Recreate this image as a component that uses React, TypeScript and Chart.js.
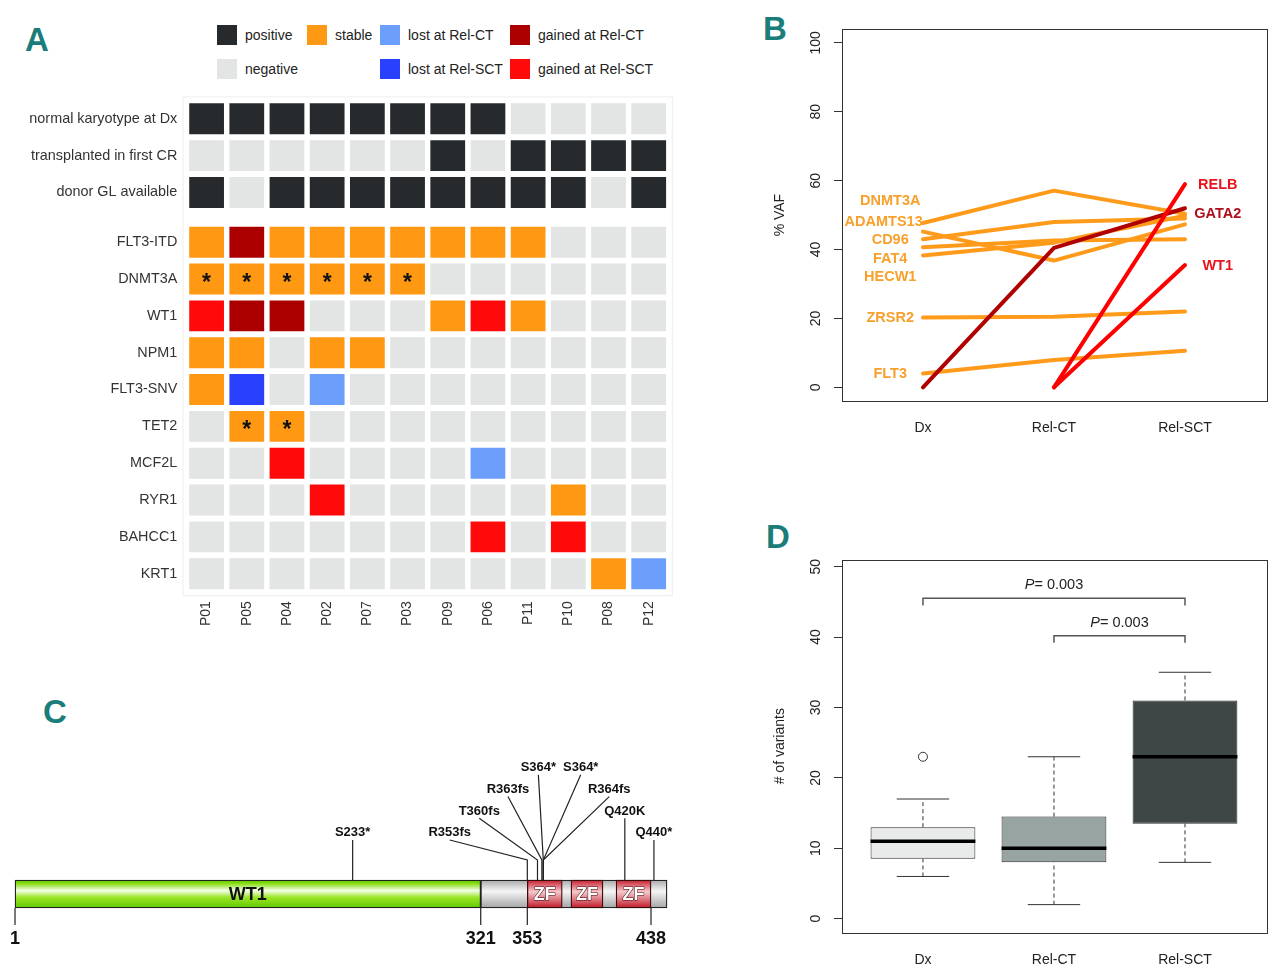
import React, { useEffect, useRef } from 'react';
import { Chart, registerables } from 'chart.js';

Chart.register(...registerables);

const SANS = '"Liberation Sans", Arial, Helvetica, sans-serif';
const NARROW = '"Liberation Sans Narrow", "Arial Narrow", "Liberation Sans", Arial, sans-serif';
Chart.defaults.font.family = SANS;
Chart.defaults.font.size = 14;
Chart.defaults.color = '#222';

// ---------------- Panel A data ----------------
const patients = ['P01', 'P05', 'P04', 'P02', 'P07', 'P03', 'P09', 'P06', 'P11', 'P10', 'P08', 'P12'];
const clinicalRows = ['normal karyotype at Dx', 'transplanted in first CR', 'donor GL available'];
const geneRows = ['FLT3-ITD', 'DNMT3A', 'WT1', 'NPM1', 'FLT3-SNV', 'TET2', 'MCF2L', 'RYR1', 'BAHCC1', 'KRT1'];
// P positive, N negative, S stable, LC lost at Rel-CT, LS lost at Rel-SCT, GC gained at Rel-CT, GS gained at Rel-SCT
const normalKaryotype = ['P', 'P', 'P', 'P', 'P', 'P', 'P', 'P', 'N', 'N', 'N', 'N'];
const transplantedCR1 = ['N', 'N', 'N', 'N', 'N', 'N', 'P', 'N', 'P', 'P', 'P', 'P'];
const donorGL = ['P', 'N', 'P', 'P', 'P', 'P', 'P', 'P', 'P', 'P', 'N', 'P'];
const flt3itd = ['S', 'GC', 'S', 'S', 'S', 'S', 'S', 'S', 'S', 'N', 'N', 'N'];
const dnmt3a = ['S', 'S', 'S', 'S', 'S', 'S', 'N', 'N', 'N', 'N', 'N', 'N'];
const wt1 = ['GS', 'GC', 'GC', 'N', 'N', 'N', 'S', 'GS', 'S', 'N', 'N', 'N'];
const npm1 = ['S', 'S', 'N', 'S', 'S', 'N', 'N', 'N', 'N', 'N', 'N', 'N'];
const flt3snv = ['S', 'LS', 'N', 'LC', 'N', 'N', 'N', 'N', 'N', 'N', 'N', 'N'];
const tet2 = ['N', 'S', 'S', 'N', 'N', 'N', 'N', 'N', 'N', 'N', 'N', 'N'];
const mcf2l = ['N', 'N', 'GS', 'N', 'N', 'N', 'N', 'LC', 'N', 'N', 'N', 'N'];
const ryr1 = ['N', 'N', 'N', 'GS', 'N', 'N', 'N', 'N', 'N', 'S', 'N', 'N'];
const bahcc1 = ['N', 'N', 'N', 'N', 'N', 'N', 'N', 'GS', 'N', 'GS', 'N', 'N'];
const krt1 = ['N', 'N', 'N', 'N', 'N', 'N', 'N', 'N', 'N', 'N', 'S', 'LC'];
const dnmt3aStarred = ['P01', 'P05', 'P04', 'P02', 'P07', 'P03'];
const tet2Starred = ['P05', 'P04'];

const statusColors: Record<string, string> = {
  P: '#262a2c', N: '#e2e5e4', S: '#ff9914', LC: '#6b9ffb', LS: '#2a40ff', GC: '#ac0000', GS: '#ff0a0a',
};
const legendLabels = ['positive', 'stable', 'lost at Rel-CT', 'gained at Rel-CT', 'negative', 'lost at Rel-SCT', 'gained at Rel-SCT'];
const legendCodes = ['P', 'S', 'LC', 'GC', 'N', 'LS', 'GS'];
const legendCol = [0, 1, 2, 3, 0, 2, 3];
const legendRow = [0, 0, 0, 0, 1, 1, 1];

// ---------------- Panel B data ----------------
const timepoints = ['Dx', 'Rel-CT', 'Rel-SCT'];
const vafDNMT3A = [47.7, 57.1, 50.4];
const vafADAMTS13 = [45.2, 36.8, 47.3];
const vafCD96 = [43.0, 48.0, 49.0];
const vafFAT4 = [40.7, 42.6, 43.0];
const vafHECW1 = [38.3, 42.0, 49.8];
const vafZRSR2 = [20.3, 20.5, 22.0];
const vafFLT3 = [4.0, 7.9, 10.6];
const vafGATA2 = [0, 40.5, 52.0];
const vafRELB = [null, 0, 59.0];
const vafWT1 = [null, 0, 35.5];
const vafTicks = [0, 20, 40, 60, 80, 100];
const stableNames = ['DNMT3A', 'ADAMTS13', 'CD96', 'FAT4', 'HECW1', 'ZRSR2', 'FLT3'];
const stableLabelX = [0.75, 0.7, 0.75, 0.75, 0.75, 0.75, 0.75];
const stableLabelY = [54.1, 47.9, 42.7, 37.4, 31.9, 20.2, 3.9];
const gainedNames = ['RELB', 'GATA2', 'WT1'];
const gainedLabelX = [3.25, 3.25, 3.25];
const gainedLabelY = [58.7, 50.4, 35.2];

// ---------------- Panel C data ----------------
const regionNames = ['WT1', '', 'ZF', 'ZF', 'ZF'];
const regionStart = [1, 321, 353, 383, 414];
const regionEnd = [321, 449, 377, 405, 438];
const regionKind = ['main', 'linker', 'zf', 'zf', 'zf'];
const mutationNames = ['S233*', 'R353fs', 'T360fs', 'R363fs', 'S364*', 'S364*', 'R364fs', 'Q420K', 'Q440*'];
const mutationPos = [233, 353, 360, 363, 364, 364, 364, 420, 440];
const mutationLabelPos = [233, 299.7, 320, 339.7, 360.6, 389.7, 409.3, 420, 440];
const mutationTier = [1, 1, 2, 3, 4, 4, 3, 2, 1];
const axisMarks = [1, 321, 353, 438];

// ---------------- Panel D data ----------------
const groups = ['Dx', 'Rel-CT', 'Rel-SCT'];
const boxLow = [8.5, 8, 13.5];
const boxHigh = [13, 14.5, 31];
const medians = [11, 10, 23];
const whiskerLow = [6, 2, 8];
const whiskerHigh = [17, 23, 35];
const outliers = [[23], [], []];
const variantTicks = [0, 10, 20, 30, 40, 50];
const compFrom = [1, 2];
const compTo = [3, 3];
const compBarY = [45.5, 40.2];
const compText = ['= 0.003', '= 0.003'];
const compTextY = [47.4, 42.0];

// ---------------- helpers ----------------
type Part = { text: string; font: string; color: string };
type TextItem = { x: number; y: number; parts: Part[]; align?: string; baseline?: CanvasTextBaseline; stroke?: string };

function textPlugin(id: string, items: TextItem[]) {
  return {
    id,
    afterDatasetsDraw(chart: any) {
      const ctx = chart.ctx;
      const xs = chart.scales.x;
      const ys = chart.scales.y;
      ctx.save();
      for (const it of items) {
        const px = xs.getPixelForValue(it.x);
        const py = ys.getPixelForValue(it.y);
        let total = 0;
        for (const p of it.parts) { ctx.font = p.font; total += ctx.measureText(p.text).width; }
        let sx = it.align === 'left' ? px : it.align === 'right' ? px - total : px - total / 2;
        ctx.textAlign = 'left';
        ctx.textBaseline = it.baseline || 'middle';
        for (const p of it.parts) {
          ctx.font = p.font;
          if (it.stroke) { ctx.lineWidth = 1; ctx.strokeStyle = it.stroke; ctx.lineJoin = 'round'; ctx.strokeText(p.text, sx, py); }
          ctx.fillStyle = p.color;
          ctx.fillText(p.text, sx, py);
          sx += ctx.measureText(p.text).width;
        }
      }
      ctx.restore();
    },
  };
}

const framePlugin = {
  id: 'frame',
  afterDraw(chart: any) {
    const { ctx, chartArea: a } = chart;
    ctx.save();
    ctx.strokeStyle = '#333';
    ctx.lineWidth = 1;
    ctx.strokeRect(Math.round(a.left) + 0.5, Math.round(a.top) + 0.5, Math.round(a.right - a.left), Math.round(a.bottom - a.top));
    ctx.restore();
  },
};

const zeroPad = (s: any) => { s.paddingTop = 0; s.paddingBottom = 0; s.paddingLeft = 0; s.paddingRight = 0; };

// ---------------- Panel A ----------------
function buildA(canvas: HTMLCanvasElement) {
  const rowLabels = [...clinicalRows, ...geneRows];
  const rowStatus = [normalKaryotype, transplantedCR1, donorGL, flt3itd, dnmt3a, wt1, npm1, flt3snv, tet2, mcf2l, ryr1, bahcc1, krt1];
  const rowPos = rowLabels.map((_, i) => (i < clinicalRows.length ? i : i + 0.35));
  const half = 0.42;
  const datasets = rowStatus.map((st, ri) => ({
    type: 'bar' as const,
    data: st.map(() => [rowPos[ri] - half, rowPos[ri] + half]),
    backgroundColor: st.map((c) => statusColors[c]),
    borderWidth: 0,
    grouped: false,
    barPercentage: 0.865,
    categoryPercentage: 1,
  }));
  const starred: [string, string][] = [
    ...dnmt3aStarred.map((p) => ['DNMT3A', p] as [string, string]),
    ...tet2Starred.map((p) => ['TET2', p] as [string, string]),
  ];
  const starPlugin = {
    id: 'stars',
    afterDatasetsDraw(chart: any) {
      const { ctx } = chart;
      const xs = chart.scales.x, ys = chart.scales.y;
      ctx.save();
      ctx.font = `bold 23px ${SANS}`;
      ctx.fillStyle = '#111';
      ctx.textAlign = 'center';
      ctx.textBaseline = 'middle';
      for (const [row, p] of starred) {
        const px = xs.getPixelForValue(patients.indexOf(p));
        const py = ys.getPixelForValue(rowPos[rowLabels.indexOf(row)]);
        ctx.fillText('*', px, py + 4.5);
      }
      ctx.restore();
    },
  };
  const bgPlugin = {
    id: 'abg',
    beforeDraw(chart: any) {
      const { ctx, chartArea: a } = chart;
      ctx.save();
      ctx.strokeStyle = '#eeeeee';
      ctx.lineWidth = 1;
      ctx.strokeRect(a.left - 3.5, a.top - 3.5, a.right - a.left + 7, a.bottom - a.top + 7);
      ctx.restore();
    },
  };
  return new Chart(canvas, {
    type: 'bar',
    data: { labels: patients, datasets: datasets as any },
    options: {
      animation: false,
      responsive: false,
      events: [],
      layout: { padding: { top: 20.4, right: 11.2, left: 0, bottom: 0 } },
      plugins: { legend: { display: false }, tooltip: { enabled: false } },
      scales: {
        x: {
          type: 'category',
          offset: true,
          grid: { display: false, drawTicks: false },
          border: { display: false },
          ticks: { autoSkip: false, minRotation: 90, maxRotation: 90, padding: 9, color: '#333', font: { size: 14 } },
          afterFit: (s: any) => { s.height = 57.9; zeroPad(s); },
        },
        y: {
          type: 'linear',
          reverse: true,
          min: -0.5,
          max: rowPos[rowPos.length - 1] + 0.5,
          grid: { display: false, drawTicks: false },
          border: { display: false },
          afterBuildTicks: (s: any) => { s.ticks = rowPos.map((v) => ({ value: v })); },
          ticks: { autoSkip: false, padding: 9.2, color: '#333', font: { size: 14.4 }, callback: (_v: any, i: number) => rowLabels[i] },
          afterFit: (s: any) => { s.width = 186.5; zeroPad(s); },
        },
      },
    } as any,
    plugins: [bgPlugin, starPlugin],
  });
}

// ---------------- Panel B ----------------
function buildB(canvas: HTMLCanvasElement) {
  const ORANGE = '#ff9a1a', DARKRED = '#b00000', RED = '#ff0000';
  const toPts = (vals: (number | null)[]) =>
    vals.map((v, i) => (v == null ? null : { x: i + 1, y: v })).filter((p) => p !== null);
  const line = (vals: (number | null)[], color: string, order: number) => ({
    type: 'line' as const,
    data: toPts(vals),
    borderColor: color,
    borderWidth: 4,
    pointRadius: 0,
    borderCapStyle: 'round',
    borderJoinStyle: 'round',
    order,
  });
  const stableSeries = [vafDNMT3A, vafADAMTS13, vafCD96, vafFAT4, vafHECW1, vafZRSR2, vafFLT3];
  const datasets = [
    line(vafRELB, RED, 0),
    line(vafWT1, RED, 0),
    line(vafGATA2, DARKRED, 1),
    ...stableSeries.map((s) => line(s, ORANGE, 2)),
  ];
  const gainedColors = ['#e8141c', '#b0101c', '#e8141c'];
  const items: TextItem[] = [
    ...stableNames.map((n, i) => ({ x: stableLabelX[i], y: stableLabelY[i], parts: [{ text: n, font: `bold 14.5px ${SANS}`, color: '#f8a02c' }] })),
    ...gainedNames.map((n, i) => ({ x: gainedLabelX[i], y: gainedLabelY[i], parts: [{ text: n, font: `bold 14.5px ${SANS}`, color: gainedColors[i] }] })),
  ];
  return new Chart(canvas, {
    type: 'line',
    data: { datasets: datasets as any },
    options: {
      animation: false,
      responsive: false,
      events: [],
      layout: { padding: { top: 29.1, right: 13, left: 0, bottom: 0 } },
      plugins: { legend: { display: false }, tooltip: { enabled: false } },
      scales: {
        x: {
          type: 'linear', min: 0.382, max: 3.626, offset: false,
          grid: { display: false, drawTicks: false }, border: { display: false },
          afterBuildTicks: (s: any) => { s.ticks = timepoints.map((_, i) => ({ value: i + 1 })); },
          ticks: { maxRotation: 0, padding: 18.5, color: '#222', font: { size: 14 }, callback: (_v: any, i: number) => timepoints[i] },
          afterFit: (s: any) => { s.height = 48.9; zeroPad(s); },
        },
        y: {
          type: 'linear', min: -4, max: 104, offset: false,
          grid: { display: true, drawOnChartArea: false, drawTicks: true, tickLength: 8, color: '#333', lineWidth: 1 },
          border: { display: false },
          afterBuildTicks: (s: any) => { s.ticks = vafTicks.map((v) => ({ value: v })); },
          ticks: { minRotation: 90, maxRotation: 90, crossAlign: 'center', padding: 5.8, color: '#222', font: { size: 14 } },
          title: { display: true, text: '% VAF', color: '#222', font: { size: 14 }, padding: { top: 11.6, bottom: 0 } },
          afterFit: (s: any) => { s.width = 82; zeroPad(s); },
        },
      },
    } as any,
    plugins: [framePlugin, textPlugin('blabels', items)],
  });
}

// ---------------- Panel C ----------------
const gradientStops: Record<string, [number, string][]> = {
  main: [[0, '#5ec400'], [0.12, '#86dc10'], [0.38, '#f4ffe8'], [0.62, '#9ae628'], [1, '#62c800']],
  linker: [[0, '#a8a8a8'], [0.4, '#f6f6f6'], [1, '#a4a4a4']],
  zf: [[0, '#c41c2c'], [0.42, '#f6c8cc'], [1, '#c01828']],
};
function gradientFor(kind: string) {
  const stops = gradientStops[kind];
  return (c: any) => {
    const chart = c.chart;
    const ys = chart.scales && chart.scales.y;
    if (!ys || !chart.chartArea) return stops[1][1];
    const top = ys.getPixelForValue(1);
    const bottom = ys.getPixelForValue(0);
    const g = chart.ctx.createLinearGradient(0, top, 0, bottom);
    for (const [o, col] of stops) g.addColorStop(o, col);
    return g;
  };
}

function buildC(canvas: HTMLCanvasElement) {
  const TIER_BASE = 1.43, TIER_STEP = 0.775, KINK = 0.714;
  const kindOrder: Record<string, number> = { zf: 1, main: 2, linker: 3 };
  const datasets: any[] = [];
  regionStart.forEach((s, i) => {
    datasets.push({
      type: 'bar', indexAxis: 'y',
      data: [{ x: [s, regionEnd[i]], y: 0.5 }],
      backgroundColor: gradientFor(regionKind[i]),
      borderColor: regionKind[i] === 'zf' ? '#3a0c0c' : '#222',
      borderWidth: 1.3, borderSkipped: false, barThickness: 28, grouped: false,
      order: kindOrder[regionKind[i]],
    });
  });
  const items: TextItem[] = [];
  mutationNames.forEach((n, i) => {
    const top = 1 + TIER_BASE + TIER_STEP * (mutationTier[i] - 1);
    const pos = mutationPos[i], lp = mutationLabelPos[i];
    const pts = lp === pos
      ? [{ x: pos, y: top }, { x: pos, y: 1 }]
      : [{ x: lp, y: top }, { x: pos, y: 1 + KINK }, { x: pos, y: 1 }];
    datasets.push({ type: 'line', data: pts, borderColor: '#222', borderWidth: 1.2, pointRadius: 0, order: 0 });
    items.push({ x: lp, y: top + 0.13, baseline: 'alphabetic', parts: [{ text: n, font: `bold 13px ${NARROW}`, color: '#111' }] });
  });
  axisMarks.forEach((a) => {
    datasets.push({ type: 'line', data: [{ x: a, y: 0 }, { x: a, y: -0.61 }], borderColor: '#222', borderWidth: 1.2, pointRadius: 0, order: 0 });
    items.push({ x: a, y: -1.29, baseline: 'alphabetic', parts: [{ text: String(a), font: `bold 18px ${NARROW}`, color: '#111' }] });
  });
  regionNames.forEach((n, i) => {
    if (!n) return;
    const cx = (regionStart[i] + regionEnd[i]) / 2;
    if (regionKind[i] === 'zf') {
      items.push({ x: cx, y: 0.47, stroke: '#3a0808', parts: [{ text: n, font: `bold 18px ${NARROW}`, color: '#ffffff' }] });
    } else {
      items.push({ x: cx, y: 0.47, parts: [{ text: n, font: `bold 18px ${NARROW}`, color: '#111' }] });
    }
  });
  return new Chart(canvas, {
    type: 'bar',
    data: { datasets },
    options: {
      animation: false,
      responsive: false,
      events: [],
      layout: { padding: 0 },
      plugins: { legend: { display: false }, tooltip: { enabled: false } },
      scales: {
        x: { type: 'linear', min: -9.31, max: 471.66, display: false, offset: false },
        y: { type: 'linear', min: -1.857, max: 6, display: false, offset: false },
      },
    } as any,
    plugins: [textPlugin('clabels', items)],
  });
}

// ---------------- Panel D ----------------
function buildD(canvas: HTMLCanvasElement) {
  const boxColors = ['#e8ebea', '#97a4a2', '#3e4646'];
  const datasets: any[] = [
    {
      type: 'bar',
      data: groups.map((_, i) => ({ x: i + 1, y: [boxLow[i], boxHigh[i]] })),
      backgroundColor: boxColors,
      borderColor: '#2b2b2b', borderWidth: 1, borderSkipped: false,
      barPercentage: 0.8, categoryPercentage: 1, order: 10,
    },
  ];
  const seg = (pts: { x: number; y: number }[], extra: any = {}) => ({
    type: 'line', data: pts, borderColor: '#333', borderWidth: 1, pointRadius: 0, order: 1, ...extra,
  });
  groups.forEach((_, i) => {
    const c = i + 1;
    datasets.push(seg([{ x: c, y: boxHigh[i] }, { x: c, y: whiskerHigh[i] }], { borderDash: [4, 3] }));
    datasets.push(seg([{ x: c, y: whiskerLow[i] }, { x: c, y: boxLow[i] }], { borderDash: [4, 3] }));
    datasets.push(seg([{ x: c - 0.2, y: whiskerHigh[i] }, { x: c + 0.2, y: whiskerHigh[i] }]));
    datasets.push(seg([{ x: c - 0.2, y: whiskerLow[i] }, { x: c + 0.2, y: whiskerLow[i] }]));
    datasets.push(seg([{ x: c - 0.4, y: medians[i] }, { x: c + 0.4, y: medians[i] }], { borderColor: '#000', borderWidth: 3.5, order: 0 }));
  });
  datasets.push({
    type: 'scatter',
    data: outliers.flatMap((arr, i) => arr.map((v) => ({ x: i + 1, y: v }))),
    pointRadius: 4.5, pointStyle: 'circle', borderColor: '#333', backgroundColor: 'rgba(255,255,255,0)', borderWidth: 1, order: 0,
  });
  compFrom.forEach((f, k) => {
    const t = compTo[k], yb = compBarY[k];
    datasets.push(seg([{ x: f, y: yb - 1 }, { x: f, y: yb }, { x: t, y: yb }, { x: t, y: yb - 1 }], { borderColor: '#555', borderWidth: 1.5 }));
  });
  const items: TextItem[] = compFrom.map((f, k) => ({
    x: (f + compTo[k]) / 2,
    y: compTextY[k],
    parts: [
      { text: 'P', font: `italic 14.5px ${SANS}`, color: '#222' },
      { text: compText[k], font: `14.5px ${SANS}`, color: '#222' },
    ],
  }));
  return new Chart(canvas, {
    type: 'bar',
    data: { datasets },
    options: {
      animation: false,
      responsive: false,
      events: [],
      layout: { padding: { top: 49.9, right: 13, left: 0, bottom: 0 } },
      plugins: { legend: { display: false }, tooltip: { enabled: false } },
      scales: {
        x: {
          type: 'linear', min: 0.382, max: 3.626, offset: false,
          grid: { display: false, offset: false, drawTicks: false }, border: { display: false },
          afterBuildTicks: (s: any) => { s.ticks = groups.map((_, i) => ({ value: i + 1 })); },
          ticks: { maxRotation: 0, padding: 19, color: '#222', font: { size: 14 }, callback: (_v: any, i: number) => groups[i] },
          afterFit: (s: any) => { s.height = 46.5; zeroPad(s); },
        },
        y: {
          type: 'linear', min: -1.96, max: 50.96, offset: false,
          grid: { display: true, drawOnChartArea: false, drawTicks: true, tickLength: 8, color: '#333', lineWidth: 1 },
          border: { display: false },
          afterBuildTicks: (s: any) => { s.ticks = variantTicks.map((v) => ({ value: v })); },
          ticks: { minRotation: 90, maxRotation: 90, crossAlign: 'center', padding: 9.7, color: '#222', font: { size: 14 } },
          title: { display: true, text: '# of variants', color: '#222', font: { size: 14 }, padding: { top: 11.6, bottom: 0 } },
          afterFit: (s: any) => { s.width = 82; zeroPad(s); },
        },
      },
    } as any,
    plugins: [framePlugin, textPlugin('dlabels', items)],
  });
}

// ---------------- App ----------------
const panelLetters = ['A', 'B', 'C', 'D'];
const letterLeft = [25, 763, 43, 766];
const letterTop = [22.7, 11.7, 694.7, 519.7];
const legendColX = [217, 307, 380, 510];
const legendRowY = [25, 59];

export default function App() {
  const aRef = useRef<HTMLCanvasElement>(null);
  const bRef = useRef<HTMLCanvasElement>(null);
  const cRef = useRef<HTMLCanvasElement>(null);
  const dRef = useRef<HTMLCanvasElement>(null);

  useEffect(() => {
    const charts = [
      buildA(aRef.current!),
      buildB(bRef.current!),
      buildC(cRef.current!),
      buildD(dRef.current!),
    ];
    return () => charts.forEach((c) => c.destroy());
  }, []);

  const abs = (left: number, top: number, w: number, h: number): React.CSSProperties => ({
    position: 'absolute', left, top, width: w, height: h,
  });

  return (
    <div style={{ position: 'absolute', left: 0, top: 0, width: 1280, height: 979, background: '#fff', overflow: 'hidden' }}>
      {panelLetters.map((l, i) => (
        <div
          key={l}
          style={{
            position: 'absolute', left: letterLeft[i], top: letterTop[i], fontFamily: NARROW, fontWeight: 'bold',
            fontStretch: 'condensed', fontSize: 33, lineHeight: 1, color: '#1b7d7a',
          }}
        >
          {l}
        </div>
      ))}
      {legendLabels.map((lab, i) => (
        <div
          key={lab}
          style={{
            position: 'absolute', left: legendColX[legendCol[i]], top: legendRowY[legendRow[i]], height: 20,
            display: 'flex', alignItems: 'center', whiteSpace: 'nowrap', fontFamily: SANS, fontSize: 14, color: '#222',
          }}
        >
          <span style={{ display: 'inline-block', width: 20, height: 20, background: statusColors[legendCodes[i]], marginRight: 8 }} />
          {lab}
        </div>
      ))}
      <canvas ref={aRef} width={680} height={570} style={abs(0, 80, 680, 570)} />
      <canvas ref={bRef} width={520} height={450} style={abs(760, 0, 520, 450)} />
      <canvas ref={cRef} width={700} height={220} style={abs(0, 740, 700, 220)} />
      <canvas ref={dRef} width={520} height={469} style={abs(760, 510, 520, 469)} />
    </div>
  );
}
